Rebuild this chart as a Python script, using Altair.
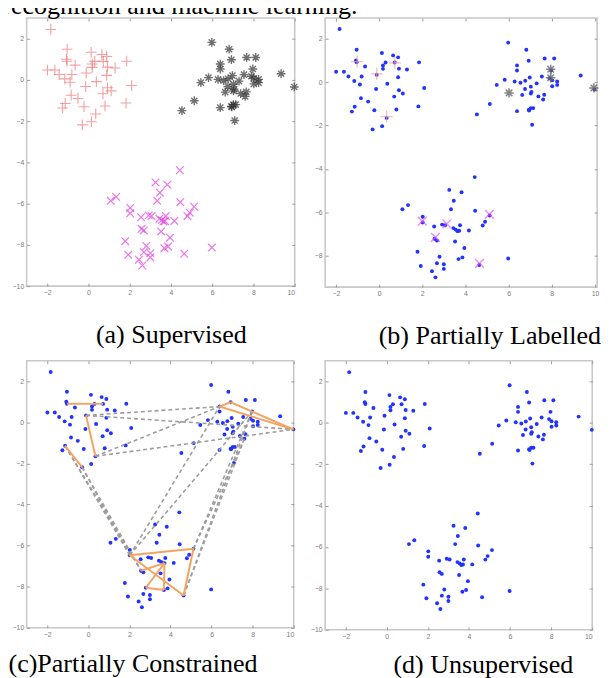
import altair as alt
import pandas as pd

# ---------------- data ----------------
# cluster 1 (left)
c1_x = [-1.83, -1.04, -1.07, -1.04, -0.65, 0.13, 0.18, 0.18, 0.30, 0.65, 0.88, 0.72, 0.92, 1.29, 1.85,
        -1.99, -1.63, -1.42, -1.15, -0.89, -0.81, -0.11, 0.38, 0.88, -0.14, -0.84, -0.51, 0.92, 1.10,
        0.70, 2.09, 1.82, -0.22, 0.80, -1.13, -1.26, 0.35, 0.14, -0.30]
c1_y = [2.45, 1.49, 1.00, 0.91, 0.72, 1.34, 0.77, 0.61, 0.90, 1.23, 1.14, 0.90, 0.62, 0.58, 0.91,
        0.48, 0.48, 0.26, 0.05, -0.11, 0.26, 0.34, -0.08, 0.22, -0.32, -0.74, -0.90, -0.38, -0.53,
        -0.67, -0.27, -1.12, -1.30, -1.26, -1.14, -1.36, -1.65, -2.03, -2.18]
# cluster 2 (right)
c2_x = [5.98, 6.82, 6.93, 6.39, 6.39, 7.67, 8.11, 5.82, 5.45, 6.28, 6.55, 6.77, 6.98, 7.30, 7.54,
        7.97, 7.90, 8.02, 8.25, 8.25, 8.02, 7.03, 6.76, 7.06, 6.63, 7.03, 7.38, 7.65, 7.60, 5.13,
        4.53, 6.39, 6.93, 7.03, 7.14, 6.95, 7.09, 9.34, 9.98]
c2_y = [1.82, 1.49, 0.98, 0.77, 0.53, 1.09, 1.09, 0.11, -0.13, 0.03, -0.03, 0.06, 0.21, -0.06, 0.26,
        0.53, 0.18, 0.08, 0.03, -0.13, -0.19, -0.21, -0.32, -0.45, -0.59, -0.53, -0.66, -0.58, -0.80,
        -1.01, -1.49, -1.34, -1.28, -1.20, -1.20, -1.31, -1.97, 0.30, -0.34]
# cluster 3 (bottom)
c3_x = [4.43, 3.25, 3.82, 3.46, 1.08, 1.34, 3.33, 4.45, 5.12, 2.02, 2.02, 2.55, 2.92, 3.06, 3.44,
        3.55, 3.75, 3.71, 3.63, 4.16, 4.91, 4.80, 2.57, 2.68, 3.52, 3.95, 1.78, 2.80, 3.68, 3.86,
        1.93, 2.68, 3.00, 3.00, 2.45, 2.61, 4.64, 5.98]
c3_y = [-4.38, -4.97, -5.08, -5.47, -5.86, -5.67, -5.86, -5.93, -6.15, -6.21, -6.47, -6.66, -6.57,
        -6.60, -6.73, -6.80, -6.60, -6.85, -6.87, -6.84, -6.44, -6.61, -7.22, -7.30, -7.35, -7.65,
        -7.82, -8.05, -8.16, -8.08, -8.48, -8.35, -8.40, -8.61, -8.72, -9.00, -8.43, -8.13]

# panel (b): the few labelled points
lab_red_x = [-1.02, -0.11, 0.73, 0.35]
lab_red_y = [0.94, 0.38, 0.89, -1.59]
lab_blk_x = [6.02, 7.95, 7.95, 9.95]
lab_blk_y = [-0.50, 0.59, 0.20, -0.27]
lab_mag_x = [2.00, 3.14, 2.61, 5.11, 4.65]
lab_mag_y = [-6.41, -6.53, -7.16, -6.10, -8.36]

# panel (c): pairwise constraints, as (cluster, index) pairs
must_link = [((1, 3), (1, 11)), ((1, 21), (1, 36)), ((1, 34), (1, 38)),
             ((2, 3), (2, 2)), ((2, 2), (2, 38)), ((2, 3), (2, 38)),
             ((3, 10), (3, 8)), ((3, 8), (3, 36)), ((3, 10), (3, 36)),
             ((3, 22), (3, 17)), ((3, 17), (3, 28)), ((3, 28), (3, 27)), ((3, 27), (3, 17))]
cannot_link = [((1, 21), (2, 3)), ((1, 21), (2, 38)), ((1, 36), (2, 3)), ((1, 36), (2, 38)),
               ((1, 34), (3, 10)), ((1, 38), (3, 10)), ((1, 34), (3, 22)), ((1, 38), (3, 22)),
               ((3, 10), (2, 3)), ((3, 10), (2, 15)),
               ((3, 8), (2, 15)), ((3, 8), (2, 28)), ((3, 36), (2, 15)), ((3, 36), (2, 28))]

x_ticks = [-2, 0, 2, 4, 6, 8, 10]
y_ticks = [2, 0, -2, -4, -6, -8, -10]

captions = ["(a) Supervised", "(b) Partially Labelled", "(c)Partially Constrained", "(d) Unsupervised"]
top_text = "recognition and machine learning."

# ---------------- tables ----------------
clusters = {1: (c1_x, c1_y), 2: (c2_x, c2_y), 3: (c3_x, c3_y)}
pts = pd.DataFrame({
    "x": c1_x + c2_x + c3_x,
    "y": c1_y + c2_y + c3_y,
    "cluster": [1] * len(c1_x) + [2] * len(c2_x) + [3] * len(c3_x),
})
df1 = pts[pts.cluster == 1]
df2 = pts[pts.cluster == 2]
df3 = pts[pts.cluster == 3]


def edges(pairs):
    rows = []
    for (ca, ia), (cb, ib) in pairs:
        rows.append({"x": clusters[ca][0][ia], "y": clusters[ca][1][ia],
                     "x2": clusters[cb][0][ib], "y2": clusters[cb][1][ib]})
    return pd.DataFrame(rows)


ml_df = edges(must_link)
cl_df = edges(cannot_link)
lab_red = pd.DataFrame({"x": lab_red_x, "y": lab_red_y})
lab_blk = pd.DataFrame({"x": lab_blk_x, "y": lab_blk_y})
lab_mag = pd.DataFrame({"x": lab_mag_x, "y": lab_mag_y})

SERIF = "Liberation Serif"
PLUS = "M-1,0L1,0M0,-1L0,1"
XMARK = "M-1,-1L1,1M-1,1L1,-1"
STAR = "M-1,0L1,0M0,-1L0,1M-0.7,-0.7L0.7,0.7M-0.7,0.7L0.7,-0.7"
TICKC = "#9a9a9a"
LABC = "#7a7a7a"


def panel(layers, w, h, xdom, ydom, caption, cap_x, cap_y):
    xs = alt.Scale(domain=xdom, nice=False, zero=False)
    ys = alt.Scale(domain=ydom, nice=False, zero=False)
    bottom = alt.Axis(orient="bottom", values=x_ticks, domain=False, grid=False, tickSize=3, offset=-3,
                      tickColor=TICKC, labelFontSize=7, labelColor=LABC, labelPadding=3, labelFont="Arial",
                      title=caption, titleX=cap_x, titleY=cap_y + 3, titleAlign="left", titleAnchor="start",
                      titleBaseline="alphabetic", titleFont=SERIF, titleFontSize=26.5,
                      titleFontWeight="normal", titleColor="black")
    left = alt.Axis(orient="left", values=y_ticks, domain=False, grid=False, tickSize=3, offset=-3,
                    tickColor=TICKC, labelFontSize=7, labelColor=LABC, labelPadding=3, labelFont="Arial",
                    title=None)
    top = alt.Axis(orient="top", values=x_ticks, domain=False, grid=False, tickSize=3, offset=-3,
                   tickColor=TICKC, labels=False, title=None)
    right = alt.Axis(orient="right", values=y_ticks, domain=False, grid=False, tickSize=3, offset=-3,
                     tickColor=TICKC, labels=False, title=None)
    ax1 = alt.Chart(pts).mark_point(opacity=0).encode(
        x=alt.X("x:Q", scale=xs, axis=bottom), y=alt.Y("y:Q", scale=ys, axis=left))
    ax2 = alt.Chart(pts).mark_point(opacity=0).encode(
        x=alt.X("x:Q", scale=xs, axis=top), y=alt.Y("y:Q", scale=ys, axis=right))
    enc = dict(x=alt.X("x:Q", scale=xs, axis=None), y=alt.Y("y:Q", scale=ys, axis=None))
    built = [ax1, ax2]
    for lay in layers:
        built.append(lay(enc))
    return alt.layer(*built).resolve_axis(x="independent", y="independent").properties(width=w, height=h)


def blue(enc):
    return alt.Chart(pts).mark_circle(size=16, color="#2233ff", opacity=1).encode(**enc)


# (a)
pa = panel([
    lambda e: alt.Chart(df1).mark_point(shape=PLUS, filled=False, size=120, color="#f07878", strokeWidth=1.1).encode(**e),
    lambda e: alt.Chart(df2).mark_point(shape=STAR, filled=False, size=80, color="#333333", strokeWidth=1.4).encode(**e),
    lambda e: alt.Chart(df3).mark_point(shape=XMARK, filled=False, size=60, color="#e23ee2", strokeWidth=1.2).encode(**e),
], 273, 273, [-3, 10], [-10, 3], captions[0], 70, 57)

# (b)
pb = panel([
    blue,
    lambda e: alt.Chart(lab_red).mark_point(shape=PLUS, filled=False, size=150, color="#f4a0a0", strokeWidth=1.3).encode(**e),
    lambda e: alt.Chart(lab_blk).mark_point(shape=STAR, filled=False, size=90, color="#666666", strokeWidth=1.6, opacity=0.8).encode(**e),
    lambda e: alt.Chart(lab_mag).mark_point(shape=XMARK, filled=False, size=80, color="#ee55ee", strokeWidth=1.4).encode(**e),
], 277, 274, [-2.5, 10.1], [-9.45, 2.95], captions[1], 54, 57)

# (c)
pc = panel([
    blue,
    lambda e: alt.Chart(cl_df).mark_rule(color="#9c9c9c", strokeDash=[4, 3], strokeWidth=1.6).encode(
        x2="x2:Q", y2="y2:Q", **e),
    lambda e: alt.Chart(ml_df).mark_rule(color="#f4a460", strokeWidth=2).encode(x2="x2:Q", y2="y2:Q", **e),
], 272, 272, [-3, 10], [-10, 3], captions[2], -19, 45)

# (d)
pd_ = panel([blue], 272, 274, [-3, 10], [-10, 3], captions[3], 69, 44)

chart = alt.concat(pa, pb, pc, pd_, columns=2, spacing={"row": 75, "column": 31}, bounds="flush").properties(
    title=alt.TitleParams(text=top_text, anchor="start", font=SERIF, fontSize=26.5, fontWeight="normal",
                          color="black", offset=-3, dx=-5),
    padding={"top": -21, "left": -6, "right": 0, "bottom": 0},
).configure_view(stroke="#c8c8c8", strokeWidth=1.6)

chart.save("out.html", embed_options={"renderer": "svg", "actions": False})
